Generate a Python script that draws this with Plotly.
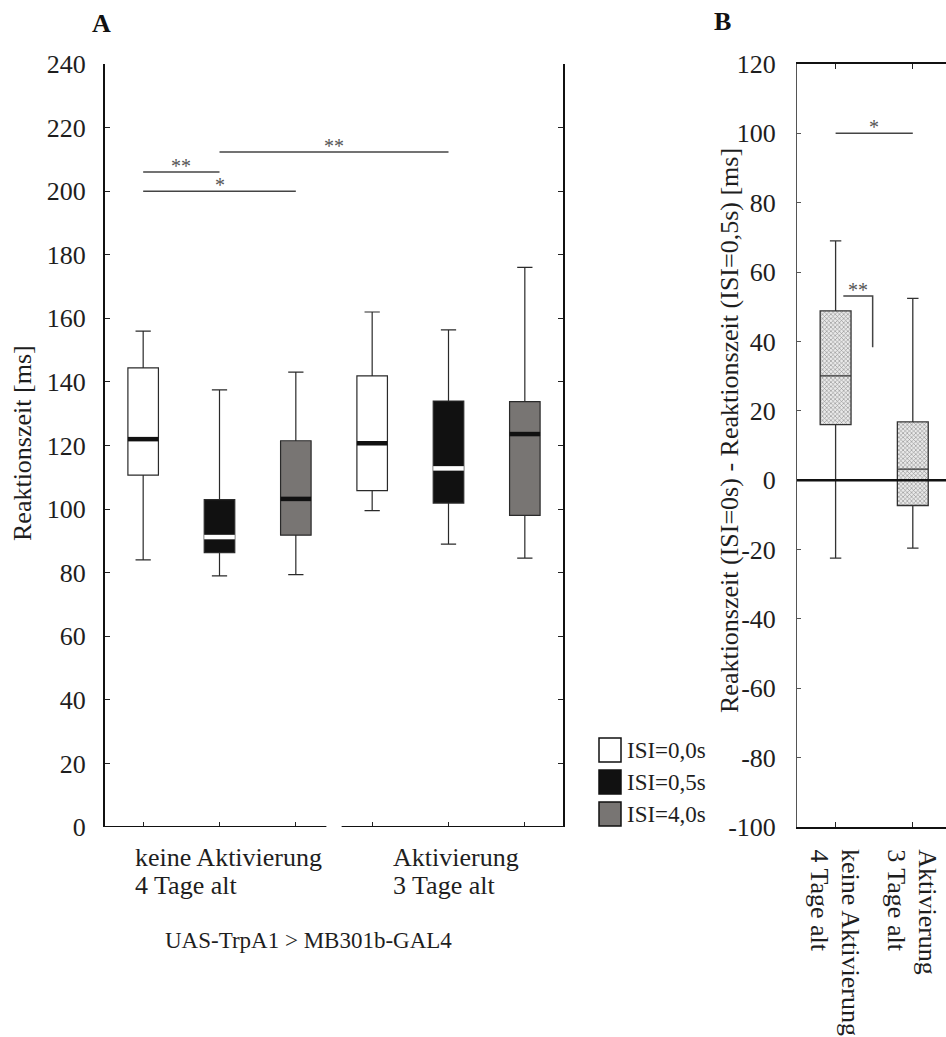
import plotly.graph_objects as go

W, H = 946, 1037
SERIF = "Liberation Serif, Times New Roman, serif"
INK = "#1e1e1e"

# ---- Panel A: reaction time per ISI and group ----
isi_labels = ["ISI=0,0s", "ISI=0,5s", "ISI=4,0s"]
isi_fill = ["#ffffff", "#111111", "#787573"]
isi_median_color = ["#111111", "#ffffff", "#111111"]
group_line1 = ["keine Aktivierung", "Aktivierung"]
group_line2 = ["4 Tage alt", "3 Tage alt"]

# one inner list per ISI, one value per group
rt_lower = [[84.0, 99.5], [79.0, 89.0], [79.4, 84.6]]
rt_q1 = [[110.7, 105.8], [86.3, 101.9], [91.8, 98.0]]
rt_median = [[122.0, 120.7], [91.2, 112.8], [103.2, 123.6]]
rt_q3 = [[144.4, 141.9], [103.0, 134.0], [121.5, 133.8]]
rt_upper = [[156.0, 162.0], [137.5, 156.4], [143.1, 176.0]]

a_ticks = list(range(0, 241, 20))

# significance bars: (from box, to box, level [ms], label)
sig_a = [(0, 1, 206, "**"), (0, 2, 200, "*"), (1, 4, 212.3, "**")]

# ---- Panel B: difference ISI=0s minus ISI=0,5s ----
diff_lower = [-22.5, -19.6]
diff_q1 = [16.0, -7.3]
diff_median = [30.1, 3.2]
diff_q3 = [48.8, 16.8]
diff_upper = [69.0, 52.4]
b_ticks = list(range(-100, 121, 20))
sig_b = (0, 1, 100, "*")
sig_b_bracket = (0.1, 0.48, 53.1, 38.3, "**")


def pxx(x):
    return x / W


def pxy(y):
    return 1 - y / H


y_dom = [pxy(827), pxy(64)]
xa_dom = [pxx(105), pxx(563)]
xb_dom = [pxx(797), 1.0]
BOX_W = 0.4

fig = go.Figure()

positions = [[3 * g + k for g in range(2)] for k in range(3)]

for k in range(3):
    fig.add_trace(go.Box(
        x=positions[k], q1=rt_q1[k], median=rt_median[k], q3=rt_q3[k],
        lowerfence=rt_lower[k], upperfence=rt_upper[k],
        width=BOX_W, whiskerwidth=0.5, boxpoints=False,
        fillcolor=isi_fill[k], line=dict(color="#2a2a2a", width=1.2),
        name=isi_labels[k], showlegend=False, xaxis="x", yaxis="y",
    ))

for k in range(3):
    mx, my = [], []
    for p, m in zip(positions[k], rt_median[k]):
        mx += [p - BOX_W / 2, p + BOX_W / 2, None]
        my += [m, m, None]
    fig.add_trace(go.Scatter(
        x=mx, y=my, mode="lines",
        line=dict(color=isi_median_color[k], width=4.5),
        showlegend=False, hoverinfo="skip", xaxis="x", yaxis="y",
    ))

# panel B: textured box body, then outline/whiskers on top
b_pos = [0, 1]
fig.add_trace(go.Bar(
    x=b_pos, base=diff_q1, y=[q3 - q1 for q1, q3 in zip(diff_q1, diff_q3)],
    width=BOX_W,
    marker=dict(color="#e6e6e6", line=dict(width=0),
                pattern=dict(shape="x", size=3, solidity=0.35,
                             fgcolor="#8a8a8a", bgcolor="#e9e9e9")),
    showlegend=False, hoverinfo="skip", xaxis="x2", yaxis="y2",
))
fig.add_trace(go.Box(
    x=b_pos, q1=diff_q1, median=diff_median, q3=diff_q3,
    lowerfence=diff_lower, upperfence=diff_upper,
    width=BOX_W, whiskerwidth=0.37, boxpoints=False,
    fillcolor="rgba(0,0,0,0)", line=dict(color="#333333", width=1.3),
    showlegend=False, xaxis="x2", yaxis="y2",
))

shapes = []
annotations = []

# broken bottom axis of panel A
for x0, x1 in [(-0.5, 2.4), (2.6, 5.5)]:
    shapes.append(dict(type="line", xref="x", yref="y", x0=x0, x1=x1, y0=0, y1=0,
                       line=dict(color="#111111", width=2)))

# zero reference in panel B
shapes.append(dict(type="line", xref="x2 domain", yref="y2", x0=0, x1=1, y0=0, y1=0,
                   line=dict(color="#111111", width=2.5), layer="above"))

star_font = dict(family=SERIF, size=20, color="#555555")
for a, b, lvl, lab in sig_a:
    shapes.append(dict(type="line", xref="x", yref="y", x0=a, x1=b, y0=lvl, y1=lvl,
                       line=dict(color="#444444", width=1.5)))
    annotations.append(dict(xref="x", yref="y", x=(a + b) / 2, y=lvl, text=lab,
                            showarrow=False, xanchor="center", yanchor="bottom",
                            yshift=-7, font=star_font))

a, b, lvl, lab = sig_b
shapes.append(dict(type="line", xref="x2", yref="y2", x0=a, x1=b, y0=lvl, y1=lvl,
                   line=dict(color="#444444", width=1.5)))
annotations.append(dict(xref="x2", yref="y2", x=(a + b) / 2, y=lvl, text=lab,
                        showarrow=False, xanchor="center", yanchor="bottom",
                        yshift=-7, font=star_font))
a, b, lvl, lo, lab = sig_b_bracket
shapes.append(dict(type="path", xref="x2", yref="y2",
                   path=f"M {a},{lvl} L {b},{lvl} L {b},{lo}",
                   line=dict(color="#444444", width=1.5)))
annotations.append(dict(xref="x2", yref="y2", x=(a + b) / 2, y=lvl, text=lab,
                        showarrow=False, xanchor="center", yanchor="bottom",
                        yshift=-7, font=star_font))

# group labels under panel A (left-aligned two-line blocks)
label_font = dict(family=SERIF, size=26, color=INK)
a_label_left = [-0.13, 3.246]
for g in range(2):
    annotations.append(dict(xref="x", yref="paper", x=a_label_left[g], y=pxy(857),
                            text=group_line1[g], showarrow=False, xanchor="left",
                            yanchor="middle", font=label_font))
    annotations.append(dict(xref="x", yref="paper", x=a_label_left[g], y=pxy(885),
                            text=group_line2[g], showarrow=False, xanchor="left",
                            yanchor="middle", font=label_font))

annotations.append(dict(xref="paper", yref="paper", x=pxx(308), y=pxy(940),
                        text="UAS-TrpA1 &gt; MB301b-GAL4", showarrow=False,
                        xanchor="center", yanchor="middle",
                        font=dict(family=SERIF, size=23, color=INK)))

# rotated group labels under panel B
for g, p in enumerate(b_pos):
    annotations.append(dict(xref="x2", yref="paper", x=p, xshift=15, y=pxy(847),
                            text=group_line1[g], textangle=90, showarrow=False,
                            xanchor="center", yanchor="top", font=label_font))
    annotations.append(dict(xref="x2", yref="paper", x=p, xshift=-16, y=pxy(847),
                            text=group_line2[g], textangle=90, showarrow=False,
                            xanchor="center", yanchor="top", font=label_font))

# axis titles
annotations.append(dict(xref="paper", yref="paper", x=pxx(22), y=pxy(443),
                        text="Reaktionszeit [ms]", textangle=-90, showarrow=False,
                        xanchor="center", yanchor="middle", font=label_font))
annotations.append(dict(xref="paper", yref="paper", x=pxx(729), y=pxy(431),
                        text="Reaktionszeit (ISI=0s) - Reaktionszeit (ISI=0,5s) [ms]",
                        textangle=-90, showarrow=False,
                        xanchor="center", yanchor="middle", font=label_font))

# panel letters
annotations.append(dict(xref="paper", yref="paper", x=pxx(101), y=pxy(23), text="<b>A</b>",
                        showarrow=False, xanchor="center", yanchor="middle",
                        font=dict(family=SERIF, size=26, color="#111")))
annotations.append(dict(xref="paper", yref="paper", x=pxx(722), y=pxy(22), text="<b>B</b>",
                        showarrow=False, xanchor="center", yanchor="middle",
                        font=dict(family=SERIF, size=26, color="#111")))

# legend swatches
leg_top = [738, 770, 802]
for k in range(3):
    shapes.append(dict(type="rect", xref="paper", yref="paper",
                       x0=pxx(599), x1=pxx(621), y0=pxy(leg_top[k] + 24), y1=pxy(leg_top[k]),
                       fillcolor=isi_fill[k], line=dict(color="#111111", width=1.5)))
    annotations.append(dict(xref="paper", yref="paper", x=pxx(625), y=pxy(leg_top[k] + 12),
                            text=isi_labels[k], showarrow=False, xanchor="left",
                            yanchor="middle", font=dict(family=SERIF, size=23, color=INK)))

tick_font = dict(family=SERIF, size=26, color=INK)
fig.update_layout(
    template="none",
    width=W, height=H, autosize=False,
    margin=dict(l=0, r=0, t=0, b=0, pad=0, autoexpand=False),
    paper_bgcolor="white", plot_bgcolor="white",
    boxmode="overlay", barmode="overlay",
    showlegend=False,
    shapes=shapes, annotations=annotations,
    xaxis=dict(domain=xa_dom, anchor="y", range=[-0.5, 5.5], automargin=False,
               tickmode="array", tickvals=[p for g in range(2) for p in range(3 * g, 3 * g + 3)],
               ticks="inside", ticklen=5, tickwidth=1.2, tickcolor="#222",
               showticklabels=False, showline=False, showgrid=False, zeroline=False),
    xaxis3=dict(overlaying="x", side="top", anchor="y", range=[-0.5, 5.5], automargin=False,
                tickmode="array", tickvals=[1, 4],
                ticks="inside", ticklen=5, tickwidth=1.2, tickcolor="#222",
                showticklabels=False, showline=True, linewidth=2, linecolor="#111",
                showgrid=False, zeroline=False),
    yaxis=dict(domain=y_dom, anchor="x", range=[0, 240], automargin=False,
               tickmode="array", tickvals=a_ticks,
               ticks="inside", ticklen=5, tickwidth=1.2, tickcolor="#222",
               showline=True, linewidth=2, linecolor="#111", mirror="ticks",
               showgrid=False, zeroline=False, tickfont=tick_font, ticklabelstandoff=12),
    xaxis2=dict(domain=xb_dom, anchor="y2", range=[-0.5, 1.43], automargin=False,
                tickmode="array", tickvals=b_pos,
                ticks="inside", ticklen=5, tickwidth=1.2, tickcolor="#222",
                showticklabels=False, showline=True, linewidth=2, linecolor="#111",
                mirror="ticks", showgrid=False, zeroline=False),
    yaxis2=dict(domain=y_dom, anchor="x2", range=[-100, 120], automargin=False,
                tickmode="array", tickvals=b_ticks, ticktext=[str(v) for v in b_ticks],
                ticks="inside", ticklen=4, tickwidth=1, tickcolor="#555",
                showline=True, linewidth=1, linecolor="#555",
                showgrid=False, zeroline=False, tickfont=tick_font, ticklabelstandoff=15),
)

fig.write_html("out.html")
